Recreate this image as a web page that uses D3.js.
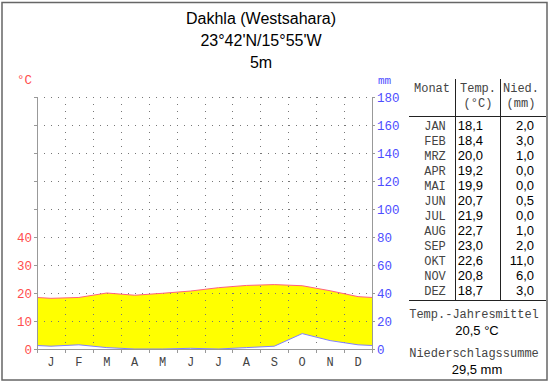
<!DOCTYPE html>
<head>
    <meta charset="utf-8">
    <title>Klimadiagramm Dakhla</title>
    <script src="https://d3js.org/d3.v7.min.js"></script>
    <style>
        body{ margin: 0; background: #fff; }
        text{ font-family: "Liberation Mono", "DejaVu Sans Mono", monospace; font-size: 12px; fill: #444; }
        text.title{ font-family: "Liberation Sans", Arial, sans-serif; font-size: 16px; fill: #000; text-anchor: middle; }
        text.tempLabel{ fill: #ff4d4d; text-anchor: end; font-size: 12.5px; }
        text.precLabel{ fill: #4d4dff; font-size: 12.5px; }
        text.month{ text-anchor: middle; }
        text.num{ font-family: "Liberation Sans", Arial, sans-serif; font-size: 13px; fill: #000; }
        line.grid{ stroke: #777; stroke-dasharray: 1,6; shape-rendering: crispEdges; }
        line.axis, line.tick{ stroke: #999; shape-rendering: crispEdges; }
        line.tbl{ stroke: #222; shape-rendering: crispEdges; }
    </style>
</head>
<body>
<script>
    // Klimadaten Dakhla
    var months = ["JAN","FEB","MRZ","APR","MAI","JUN","JUL","AUG","SEP","OKT","NOV","DEZ"];
    var monthLetters = ["J","F","M","A","M","J","J","A","S","O","N","D"];
    var temp = [18.1, 18.4, 20.0, 19.2, 19.9, 20.7, 21.9, 22.7, 23.0, 22.6, 20.8, 18.7];
    var prec = [2.0, 3.0, 1.0, 0.0, 0.0, 0.5, 0.0, 1.0, 2.0, 11.0, 6.0, 3.0];
    var tempTicks = [0, 10, 20, 30, 40];
    var precTicks = [0, 20, 40, 60, 80, 100, 120, 140, 160, 180];
    var titleLines = ["Dakhla (Westsahara)", "23°42'N/15°55'W", "5m"];
    var meanTemp = "20,5 °C";
    var sumPrec = "29,5 mm";

    var svg = d3.select("body").append("svg")
        .attr("width", 550)
        .attr("height", 384);

    // frame
    svg.append("rect")
        .attr("x", 2).attr("y", 2.5)
        .attr("width", 545).attr("height", 377.5)
        .attr("fill", "none")
        .attr("stroke", "#666")
        .attr("stroke-width", 1.5);

    svg.selectAll("text.title")
        .data(titleLines)
        .enter().append("text")
        .attr("class", "title")
        .attr("x", 261)
        .attr("y", (d, i) => 24 + i * 22)
        .text(d => d);

    // scales: 10 °C = 20 mm
    var x = d3.scaleLinear().domain([0, 12]).range([37, 372]);
    var yT = d3.scaleLinear().domain([0, 90]).range([349, 97]);
    var yP = d3.scaleLinear().domain([0, 180]).range([349, 97]);

    // points at month centres, edges wrap Dec/Jan
    var pts = months.map((m, i) => ({x: i + 0.5, t: temp[i], p: prec[i]}));
    var edgeT = (temp[0] + temp[11]) / 2, edgeP = (prec[0] + prec[11]) / 2;
    pts.unshift({x: 0, t: edgeT, p: edgeP});
    pts.push({x: 12, t: edgeT, p: edgeP});

    var area = d3.area()
        .x(d => x(d.x))
        .y0(d => yP(d.p))
        .y1(d => yT(d.t));

    svg.append("path")
        .datum(pts)
        .attr("d", area)
        .attr("fill", "#ffff00");

    // grid
    svg.selectAll("line.hgrid")
        .data(precTicks.slice(1))
        .enter().append("line")
        .attr("class", "grid")
        .attr("x1", x(0)).attr("x2", x(12))
        .attr("y1", d => yP(d) + 0.5).attr("y2", d => yP(d) + 0.5);

    svg.selectAll("line.vgrid")
        .data(d3.range(1, 12))
        .enter().append("line")
        .attr("class", "grid")
        .attr("x1", d => Math.round(x(d)) + 0.5).attr("x2", d => Math.round(x(d)) + 0.5)
        .attr("y1", yP(180)).attr("y2", yP(0));

    // lines
    svg.append("path")
        .datum(pts)
        .attr("d", d3.line().x(d => x(d.x)).y(d => yT(d.t)))
        .attr("fill", "none")
        .attr("stroke", "#ff6080")
        .attr("stroke-width", 1);

    svg.append("path")
        .datum(pts)
        .attr("d", d3.line().x(d => x(d.x)).y(d => yP(d.p)))
        .attr("fill", "none")
        .attr("stroke", "#8080ff")
        .attr("stroke-width", 1);

    // axes
    svg.append("line").attr("class", "axis")
        .attr("x1", x(0) + 0.5).attr("x2", x(0) + 0.5)
        .attr("y1", yP(180)).attr("y2", yP(0) + 4);
    svg.append("line").attr("class", "axis")
        .attr("x1", x(12) + 0.5).attr("x2", x(12) + 0.5)
        .attr("y1", yP(180)).attr("y2", yP(0) + 4);
    svg.append("line").attr("class", "axis")
        .attr("x1", x(0)).attr("x2", x(12))
        .attr("y1", yP(0) + 0.5).attr("y2", yP(0) + 0.5);

    svg.selectAll("line.ltick")
        .data(precTicks)
        .enter().append("line")
        .attr("class", "tick")
        .attr("x1", x(0) - 3).attr("x2", x(0))
        .attr("y1", d => yP(d) + 0.5).attr("y2", d => yP(d) + 0.5);

    svg.selectAll("line.rtick")
        .data(precTicks)
        .enter().append("line")
        .attr("class", "tick")
        .attr("x1", x(12)).attr("x2", x(12) + 3)
        .attr("y1", d => yP(d) + 0.5).attr("y2", d => yP(d) + 0.5);

    svg.selectAll("line.btick")
        .data(d3.range(0, 13))
        .enter().append("line")
        .attr("class", "tick")
        .attr("x1", d => Math.round(x(d)) + 0.5).attr("x2", d => Math.round(x(d)) + 0.5)
        .attr("y1", yP(0)).attr("y2", yP(0) + 4);

    svg.selectAll("text.tempLabel")
        .data(tempTicks)
        .enter().append("text")
        .attr("class", "tempLabel")
        .attr("x", 32)
        .attr("y", d => yT(d) + 4.5)
        .text(d => d);

    svg.selectAll("text.precLabel")
        .data(precTicks)
        .enter().append("text")
        .attr("class", "precLabel")
        .attr("x", 377)
        .attr("y", d => yP(d) + 4.5)
        .text(d => d);

    svg.append("text").attr("class", "tempLabel")
        .attr("x", 32).attr("y", 84).text("°C");
    svg.append("text").attr("class", "precLabel")
        .attr("x", 378).attr("y", 84)
        .style("font-size", "11px").text("mm");

    svg.selectAll("text.month")
        .data(monthLetters)
        .enter().append("text")
        .attr("class", "month")
        .attr("x", (d, i) => x(i + 0.5))
        .attr("y", 366)
        .text(d => d);

    // table
    var tbl = svg.append("g");
    [[432, "Monat", ""], [478, "Temp.", "(°C)"], [521, "Nied.", "(mm)"]].forEach(h => {
        tbl.append("text").attr("x", h[0]).attr("y", 92).style("text-anchor", "middle").text(h[1]);
        tbl.append("text").attr("x", h[0]).attr("y", 107).style("text-anchor", "middle").text(h[2]);
    });
    tbl.append("line").attr("class", "tbl").attr("x1", 455.5).attr("x2", 455.5).attr("y1", 79).attr("y2", 301);
    tbl.append("line").attr("class", "tbl").attr("x1", 500.5).attr("x2", 500.5).attr("y1", 79).attr("y2", 301);
    tbl.append("line").attr("class", "tbl").attr("x1", 409).attr("x2", 546).attr("y1", 116.5).attr("y2", 116.5);
    tbl.append("line").attr("class", "tbl").attr("x1", 409).attr("x2", 546).attr("y1", 300.5).attr("y2", 300.5);

    var fmt = v => d3.format(".1f")(v).replace(".", ",");
    months.forEach((m, i) => {
        var yy = 130 + i * 15;
        tbl.append("text").attr("x", 435).attr("y", yy).style("text-anchor", "middle").text(m);
        tbl.append("text").attr("class", "num").attr("x", 483).attr("y", yy).style("text-anchor", "end").text(fmt(temp[i]));
        tbl.append("text").attr("class", "num").attr("x", 534).attr("y", yy).style("text-anchor", "end").text(fmt(prec[i]));
    });

    tbl.append("text").attr("x", 474).attr("y", 318).style("text-anchor", "middle").text("Temp.-Jahresmittel");
    tbl.append("text").attr("class", "num").attr("x", 477).attr("y", 335).style("text-anchor", "middle").text(meanTemp);
    tbl.append("text").attr("x", 474).attr("y", 357).style("text-anchor", "middle").text("Niederschlagssumme");
    tbl.append("text").attr("class", "num").attr("x", 477).attr("y", 374).style("text-anchor", "middle").text(sumPrec);
</script>
</body>
